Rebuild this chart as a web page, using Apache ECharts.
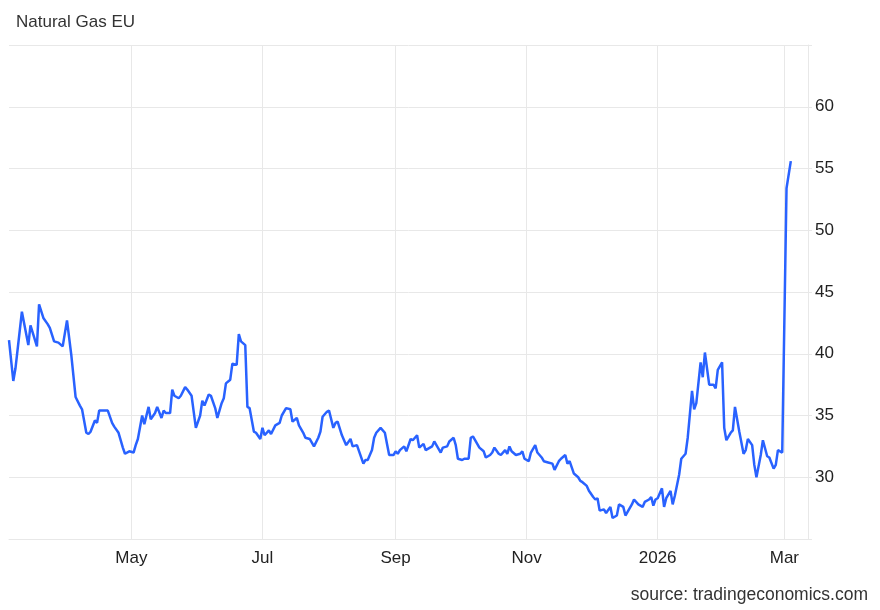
<!DOCTYPE html>
<html>
<head>
<meta charset="utf-8">
<title>Natural Gas EU</title>
<script src="https://cdn.jsdelivr.net/npm/echarts@6/dist/echarts.min.js"></script>
<style>
  html, body { margin: 0; padding: 0; background: #fff; }
  #chart { width: 880px; height: 610px; }
</style>
</head>
<body>
<div id="chart"></div>
<script>
// first observation: 5 Mar 2025, offsets are days after it
const startDate = [2025, 2, 5];
const axisEnd = [2026, 2, 12];

const dayOffsets = [
  0, 2, 3, 6, 9, 10, 13, 14, 16, 18, 19, 21, 23, 25, 27, 29, 31, 33, 34, 36,
  37, 38, 40, 41, 42, 46, 48, 49, 51, 53, 54, 56, 58, 59, 60, 62, 63, 65, 66, 68,
  69, 71, 72, 73, 75, 76, 77, 79, 80, 82, 83, 85, 86, 87, 89, 90, 91, 93, 94, 96,
  97, 99, 100, 101, 103, 104, 106, 107, 108, 110, 111, 112, 114, 115, 117, 118, 119, 121, 122, 124,
  126, 127, 129, 131, 132, 134, 135, 137, 138, 140, 142, 144, 145, 146, 148, 149, 151, 152, 153, 155,
  156, 157, 159, 160, 162, 163, 165, 166, 167, 169, 170, 171, 173, 175, 176, 177, 179, 180, 181, 182,
  184, 185, 187, 188, 190, 191, 193, 194, 196, 197, 198, 200, 201, 202, 204, 205, 207, 208, 209, 211,
  212, 214, 215, 216, 218, 219, 221, 222, 224, 225, 226, 228, 229, 231, 232, 233, 234, 236, 238, 239,
  240, 242, 243, 245, 246, 248, 249, 251, 253, 254, 256, 257, 259, 260, 261, 263, 265, 266, 267, 269,
  270, 272, 273, 274, 275, 277, 278, 280, 281, 283, 284, 286, 287, 289, 290, 291, 293, 295, 296, 298,
  299, 300, 301, 302, 304, 305, 306, 308, 309, 310, 312, 313, 315, 316, 318, 319, 320, 322, 323, 324,
  326, 328, 329, 330, 332, 333, 334, 336, 337, 338, 340, 342, 343, 344, 346, 347, 348, 350, 351, 353,
  354, 356, 357, 358, 360, 362, 364
];

const prices = [
  41.1, 37.8, 38.8, 43.4, 40.7, 42.3, 40.6, 44.0, 42.9, 42.4, 42.1, 41.0, 40.9, 40.6, 42.7, 39.9, 36.5, 35.8, 35.5, 33.6,
  33.5, 33.7, 34.6, 34.4, 35.4, 35.4, 34.4, 34.1, 33.6, 32.4, 31.9, 32.1, 32.0, 32.6, 33.1, 35.0, 34.3, 35.7, 34.7, 35.2,
  35.7, 34.8, 35.4, 35.2, 35.2, 37.1, 36.6, 36.4, 36.6, 37.3, 37.1, 36.6, 35.3, 34.0, 35.0, 36.2, 35.8, 36.7, 36.6, 35.6,
  34.8, 36.0, 36.4, 37.6, 37.9, 39.2, 39.1, 41.6, 41.0, 40.7, 35.7, 35.6, 33.7, 33.6, 33.1, 34.0, 33.4, 33.8, 33.5, 34.2,
  34.4, 35.0, 35.6, 35.5, 34.5, 34.8, 34.2, 33.6, 33.2, 33.1, 32.5, 33.2, 33.7, 34.9, 35.3, 35.4, 34.0, 34.4, 34.5, 33.4,
  33.0, 32.6, 33.1, 32.5, 32.6, 32.1, 31.1, 31.4, 31.4, 32.2, 33.2, 33.6, 34.0, 33.6, 32.7, 31.8, 31.8, 32.1, 31.9, 32.2,
  32.5, 32.1, 33.1, 33.0, 33.4, 32.4, 32.7, 32.2, 32.4, 32.5, 32.9, 32.3, 32.0, 32.4, 32.5, 32.9, 33.2, 32.6, 31.5, 31.4,
  31.5, 31.5, 33.2, 33.3, 32.7, 32.4, 32.1, 31.6, 31.8, 32.0, 32.4, 31.9, 31.8, 32.2, 31.9, 32.5, 32.1, 31.8, 31.9, 32.1,
  31.5, 31.3, 32.0, 32.6, 32.0, 31.6, 31.3, 31.2, 31.1, 30.6, 31.3, 31.5, 31.8, 31.1, 31.3, 30.3, 30.0, 29.7, 29.6, 29.3,
  28.9, 28.4, 28.2, 28.3, 27.3, 27.4, 27.1, 27.6, 26.7, 26.9, 27.8, 27.6, 26.9, 27.5, 27.8, 28.2, 27.8, 27.6, 28.0, 28.2,
  28.4, 27.7, 28.2, 28.3, 29.1, 27.6, 28.3, 28.9, 27.8, 28.5, 30.2, 31.5, 31.9, 33.2, 37.0, 35.5, 36.0, 39.3, 38.1, 40.1,
  37.5, 37.5, 37.2, 38.7, 39.3, 34.0, 33.0, 33.6, 33.8, 35.7, 33.7, 31.9, 32.2, 33.1, 32.6, 31.0, 30.0, 31.8, 33.0, 31.7,
  31.6, 30.7, 31.0, 32.2, 32.0, 53.4, 55.6
];

const monthNames = ["Jan", "Feb", "Mar", "Apr", "May", "Jun", "Jul", "Aug", "Sep", "Oct", "Nov", "Dec"];
const yRange = [25, 65];
const yStep = 5;

const seriesData = dayOffsets.map((d, i) => [
  new Date(startDate[0], startDate[1], startDate[2] + d).getTime(),
  prices[i],
]);

const font = "'Liberation Sans', Arial, sans-serif";
const gridColor = "#e8e8e8";

const chart = echarts.init(document.getElementById("chart"));
chart.setOption({
  animation: false,
  backgroundColor: "#fff",
  title: [
    {
      text: "Natural Gas EU",
      left: 16,
      top: 14,
      padding: 0,
      textStyle: { fontFamily: font, fontSize: 17, fontWeight: "normal", color: "#333" },
    },
    {
      text: "source: tradingeconomics.com",
      right: 12,
      bottom: 6,
      padding: 0,
      textStyle: { fontFamily: font, fontSize: 17.5, fontWeight: "normal", color: "#333" },
    },
  ],
  grid: { left: 9, right: 72, top: 45, bottom: 71, containLabel: false, outerBoundsMode: "none" },
  xAxis: {
    type: "time",
    min: new Date(startDate[0], startDate[1], startDate[2]).getTime(),
    max: new Date(axisEnd[0], axisEnd[1], axisEnd[2]).getTime(),
    axisLine: { show: true, lineStyle: { color: gridColor, width: 1 } },
    axisTick: { show: false },
    splitLine: { show: true, showMinLine: false, lineStyle: { color: gridColor, width: 1 } },
    axisLabel: {
      showMinLabel: false,
      showMaxLabel: false,
      margin: 11,
      fontFamily: font,
      fontSize: 17,
      color: "#222",
      formatter: (val) => {
        const d = new Date(val);
        return d.getMonth() === 0 ? String(d.getFullYear()) : monthNames[d.getMonth()];
      },
    },
  },
  yAxis: {
    type: "value",
    position: "right",
    min: yRange[0],
    max: yRange[1],
    interval: yStep,
    axisLine: { show: true, lineStyle: { color: gridColor, width: 1 } },
    axisTick: { show: true, length: 4, lineStyle: { color: gridColor } },
    splitLine: { show: true, lineStyle: { color: gridColor, width: 1 } },
    axisLabel: {
      margin: 7,
      padding: [4, 0, 0, 0],
      fontFamily: font,
      fontSize: 17,
      color: "#222",
      formatter: (v) => (v === yRange[0] || v === yRange[1] ? "" : String(v)),
    },
  },
  series: [
    {
      name: "Natural Gas EU",
      type: "line",
      data: seriesData,
      showSymbol: false,
      symbol: "none",
      lineStyle: { color: "#2962ff", width: 2.5 },
      itemStyle: { color: "#2962ff" },
    },
  ],
});
</script>
</body>
</html>
